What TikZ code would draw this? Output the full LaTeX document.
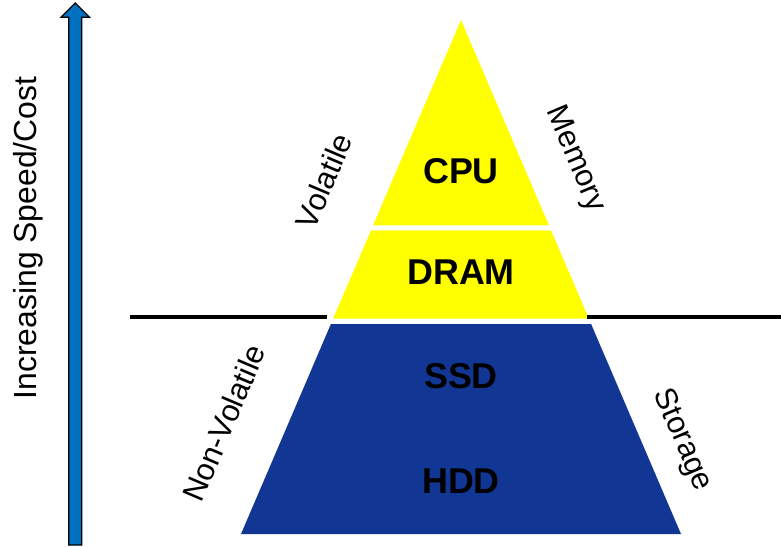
\documentclass[tikz,border=0pt]{standalone}
\usepackage{fontspec}
\setmainfont{Liberation Sans}
\definecolor{pyrblue}{RGB}{17,54,148}
\definecolor{arrblue}{RGB}{0,112,192}
\definecolor{pyryellow}{RGB}{255,255,0}
\begin{document}
\begin{tikzpicture}[x=1bp,y=-1bp,
  layer/.style={font=\fontsize{36}{36}\selectfont\bfseries, text=black, inner sep=0pt},
  side/.style={font=\fontsize{31}{31}\selectfont, text=black, inner sep=0pt},
  divider/.style={draw=black, line width=4bp},
  speedarrow/.style={fill=arrblue, draw=black, line width=1.2bp, line join=miter}]
\useasboundingbox (0,0) rectangle (781,547);
% pyramid layers
\fill[pyryellow] (461,20) -- (549,225.5) -- (373,225.5) -- cycle;
\fill[pyryellow] (370.9,230.5) -- (551.1,230.5) -- (588.8,318.5) -- (333.2,318.5) -- cycle;
\fill[pyrblue] (330.9,324) -- (591.1,324) -- (681,534) -- (241,534) -- cycle;
% divider line
\coordinate (dl1) at (130,316.7);
\coordinate (dl2) at (327,316.7);
\coordinate (dr1) at (587,316.7);
\coordinate (dr2) at (781,316.7);
\draw[divider] (dl1) -- (dl2);
\draw[divider] (dr1) -- (dr2);
% arrow
\filldraw[speedarrow] (68.8,545) -- (68.8,17.3) -- (61,17.3) -- (75.3,3) -- (89.5,17.3) -- (81.8,17.3) -- (81.8,545) -- cycle;
% labels
\node[layer] (cpu) at (461,171.5) {CPU};
\node[layer] (dram) at (461,272.5) {DRAM};
\node[layer] (ssd) at (461,376) {SSD};
\node[layer] (hdd) at (461,481.5) {HDD};
\node[side, rotate=67] (vol) at (324,181) {Volatile};
\node[side, rotate=-67] (mem) at (575,159) {Memory};
\node[side, rotate=67] (nonvol) at (224,423) {Non-Volatile};
\node[side, rotate=-67] (stor) at (682,440) {Storage};
\node[font=\fontsize{32}{32}\selectfont, rotate=90, inner sep=0pt] (speed) at (28,238) {Increasing Speed/Cost};
\end{tikzpicture}
\end{document}
